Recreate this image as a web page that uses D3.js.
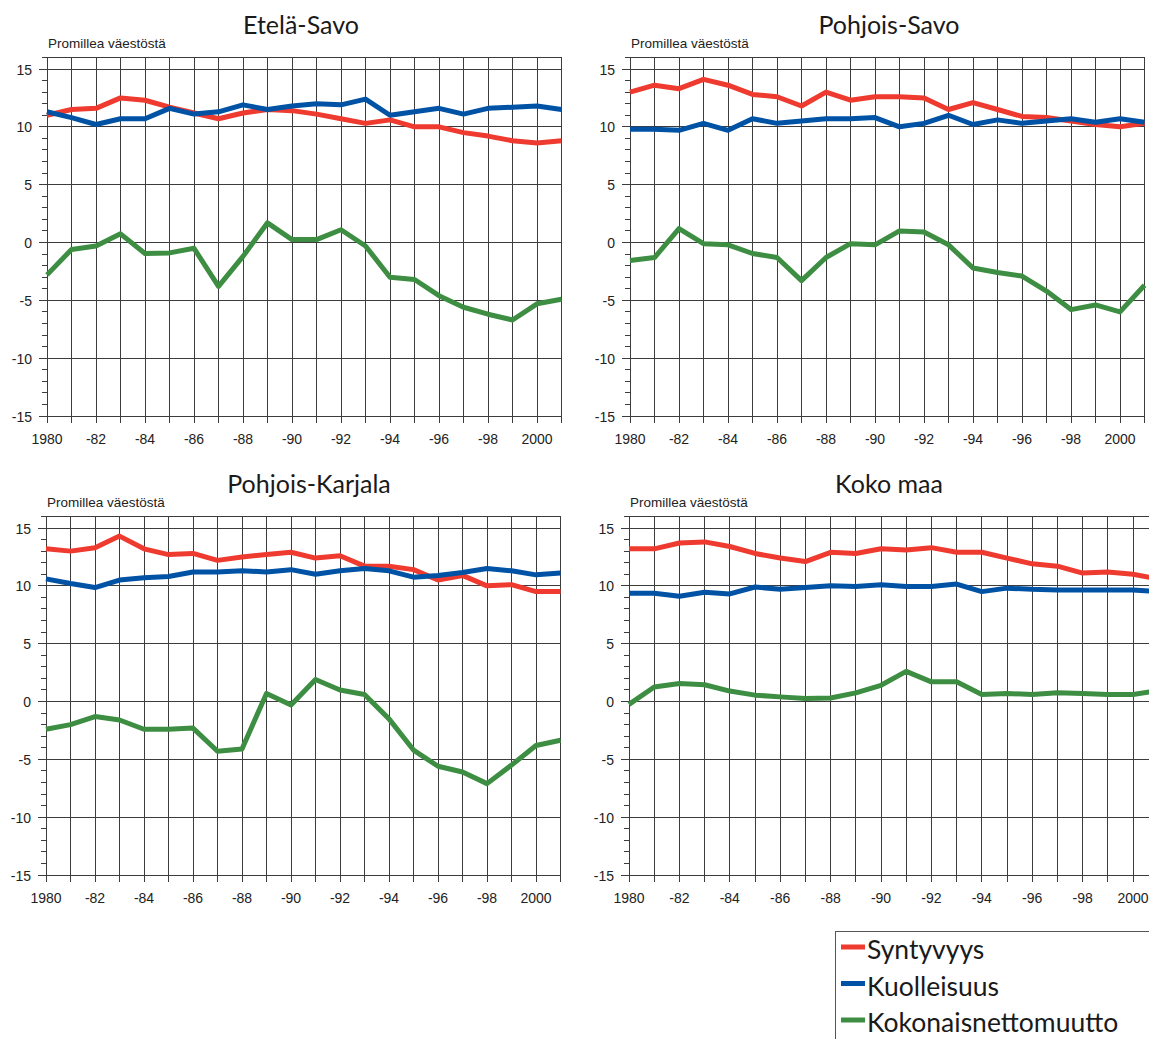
<!DOCTYPE html>
<meta charset="utf-8">
<style>
body { margin: 0; background: #fff; }
svg { display: block; }
.title { font-family: Lato, "Open Sans", sans-serif; font-size: 25px; fill: #1a1a1a; }
.unit { font-family: "Liberation Sans", Arial, sans-serif; font-size: 13.5px; fill: #222; }
.tick-label { font-family: "Liberation Sans", Arial, sans-serif; font-size: 14px; fill: #222; }
.grid line { stroke: #3c3c3c; stroke-width: 1px; shape-rendering: crispEdges; }
.series { fill: none; stroke-width: 5px; stroke-linejoin: round; }
.legend-text { font-family: Lato, "Open Sans", sans-serif; font-size: 26.5px; fill: #1a1a1a; }
</style>
<body>
<script src="https://d3js.org/d3.v7.min.js"></script>
<script>

// years on the x axis
var years = [1980, 1981, 1982, 1983, 1984, 1985, 1986, 1987, 1988, 1989, 1990,
             1991, 1992, 1993, 1994, 1995, 1996, 1997, 1998, 1999, 2000, 2001];
var xTickYears = [1980, 1982, 1984, 1986, 1988, 1990, 1992, 1994, 1996, 1998, 2000];
var xTickLabels = ["1980", "-82", "-84", "-86", "-88", "-90", "-92", "-94", "-96", "-98", "2000"];
var yTicks = [15, 10, 5, 0, -5, -10, -15];
var seriesNames = ["Syntyvyys", "Kuolleisuus", "Kokonaisnettomuutto"];
var seriesColors = ["#ee3a2f", "#0052a5", "#3d8e42"];
var unitLabel = "Promillea väestöstä";

// Etelä-Savo
var etelaSavoBirth = [11.0, 11.5, 11.6, 12.5, 12.3, 11.7, 11.2, 10.7, 11.2, 11.5, 11.4,
                      11.1, 10.7, 10.3, 10.6, 10.0, 10.0, 9.5, 9.2, 8.8, 8.6, 8.8];
var etelaSavoDeath = [11.3, 10.8, 10.2, 10.7, 10.7, 11.6, 11.1, 11.3, 11.9, 11.5, 11.8,
                      12.0, 11.9, 12.4, 11.0, 11.3, 11.6, 11.1, 11.6, 11.7, 11.8, 11.5];
var etelaSavoMigr = [-2.8, -0.6, -0.3, 0.75, -0.95, -0.9, -0.5, -3.8, -1.2, 1.7, 0.25,
                     0.25, 1.1, -0.3, -3.0, -3.2, -4.6, -5.6, -6.2, -6.7, -5.3, -4.9];

// Pohjois-Savo
var pohjoisSavoBirth = [13.0, 13.6, 13.3, 14.1, 13.6, 12.8, 12.6, 11.8, 13.0, 12.3, 12.6,
                        12.6, 12.5, 11.5, 12.1, 11.5, 10.9, 10.8, 10.5, 10.2, 10.0, 10.3];
var pohjoisSavoDeath = [9.8, 9.8, 9.7, 10.3, 9.7, 10.7, 10.3, 10.5, 10.7, 10.7, 10.8,
                        10.0, 10.3, 11.0, 10.2, 10.6, 10.3, 10.5, 10.7, 10.4, 10.7, 10.4];
var pohjoisSavoMigr = [-1.55, -1.3, 1.2, -0.1, -0.2, -0.95, -1.3, -3.3, -1.3, -0.1, -0.2,
                       1.0, 0.9, -0.2, -2.2, -2.6, -2.9, -4.2, -5.8, -5.4, -6.0, -3.7];

// Pohjois-Karjala
var pohjoisKarjalaBirth = [13.2, 13.0, 13.3, 14.3, 13.2, 12.7, 12.8, 12.2, 12.5, 12.7, 12.9,
                           12.4, 12.6, 11.7, 11.7, 11.4, 10.5, 10.9, 10.0, 10.1, 9.5, 9.5];
var pohjoisKarjalaDeath = [10.6, 10.2, 9.85, 10.5, 10.7, 10.8, 11.2, 11.2, 11.3, 11.2, 11.4,
                           11.0, 11.3, 11.5, 11.3, 10.75, 10.9, 11.15, 11.5, 11.3, 10.95, 11.1];
var pohjoisKarjalaMigr = [-2.4, -2.0, -1.3, -1.6, -2.4, -2.4, -2.3, -4.3, -4.1, 0.7, -0.3,
                          1.9, 1.0, 0.6, -1.5, -4.2, -5.6, -6.1, -7.1, -5.5, -3.8, -3.35];

// Koko maa
var kokoMaaBirth = [13.2, 13.2, 13.7, 13.8, 13.4, 12.8, 12.4, 12.1, 12.9, 12.8, 13.2,
                    13.1, 13.3, 12.9, 12.9, 12.4, 11.9, 11.7, 11.1, 11.2, 11.0, 10.6];
var kokoMaaDeath = [9.35, 9.35, 9.1, 9.45, 9.3, 9.9, 9.7, 9.85, 10.0, 9.95, 10.1,
                    9.95, 9.95, 10.15, 9.5, 9.8, 9.7, 9.65, 9.65, 9.65, 9.65, 9.5];
var kokoMaaMigr = [-0.25, 1.25, 1.55, 1.45, 0.9, 0.55, 0.4, 0.25, 0.3, 0.75, 1.4,
                   2.6, 1.7, 1.7, 0.6, 0.7, 0.6, 0.75, 0.7, 0.6, 0.6, 0.95];

var regions = ["Etelä-Savo", "Pohjois-Savo", "Pohjois-Karjala", "Koko maa"];
var regionData = [
    [etelaSavoBirth, etelaSavoDeath, etelaSavoMigr],
    [pohjoisSavoBirth, pohjoisSavoDeath, pohjoisSavoMigr],
    [pohjoisKarjalaBirth, pohjoisKarjalaDeath, pohjoisKarjalaMigr],
    [kokoMaaBirth, kokoMaaDeath, kokoMaaMigr]
];

// panel placement (pixels): left axis, year step, y of 15 and -15, title centre
var layout = [
    {left: 47,  step: 24.5, yTop: 69,  yBot: 416, titleX: 301, titleY: 34},
    {left: 630, step: 24.5, yTop: 69,  yBot: 416, titleX: 889, titleY: 34},
    {left: 46,  step: 24.5, yTop: 528, yBot: 875, titleX: 309, titleY: 493},
    {left: 629, step: 25.2, yTop: 528, yBot: 875, titleX: 889, titleY: 493}
];

var svg = d3.select("body").append("svg")
        .attr("width", 1149)
        .attr("height", 1039);

regions.forEach(function(name, i) {
    var L = layout[i];
    var x = d3.scaleLinear().domain([1980, 2001])
            .range([L.left, L.left + 21 * L.step]);
    var y = d3.scaleLinear().domain([-15, 15]).range([L.yBot, L.yTop]);
    var top = y(16);
    var g = svg.append("g");

    // minor ticks every unit
    var grid = g.append("g").attr("class", "grid");
    grid.selectAll(".minor")
            .data(d3.range(-15, 17))
            .enter().append("line")
            .attr("x1", L.left - 5).attr("x2", L.left)
            .attr("y1", function(d) { return y(d); })
            .attr("y2", function(d) { return y(d); });

    // horizontal grid
    grid.selectAll(".h")
            .data(yTicks)
            .enter().append("line")
            .attr("x1", L.left - 8).attr("x2", x(2001))
            .attr("y1", function(d) { return y(d); })
            .attr("y2", function(d) { return y(d); });

    // top frame
    grid.append("line")
            .attr("x1", L.left).attr("x2", x(2001))
            .attr("y1", top).attr("y2", top);

    // vertical grid, one per year
    grid.selectAll(".v")
            .data(years)
            .enter().append("line")
            .attr("x1", function(d) { return x(d); })
            .attr("x2", function(d) { return x(d); })
            .attr("y1", top)
            .attr("y2", L.yBot + 7);

    // y labels
    g.selectAll(".ylab")
            .data(yTicks)
            .enter().append("text")
            .attr("class", "tick-label")
            .attr("text-anchor", "end")
            .attr("x", L.left - 15)
            .attr("y", function(d) { return y(d) + 5.5; })
            .text(function(d) { return d; });

    // x labels
    g.selectAll(".xlab")
            .data(xTickYears)
            .enter().append("text")
            .attr("class", "tick-label")
            .attr("text-anchor", "middle")
            .attr("x", function(d) { return x(d); })
            .attr("y", L.yBot + 28)
            .text(function(d, j) { return xTickLabels[j]; });

    // series lines
    var line = d3.line()
            .x(function(d, j) { return x(years[j]); })
            .y(function(d) { return y(d); });

    regionData[i].forEach(function(values, k) {
        g.append("path")
                .attr("class", "series")
                .attr("stroke", seriesColors[k])
                .attr("d", line(values));
    });

    // titles
    g.append("text")
            .attr("class", "title")
            .attr("text-anchor", "middle")
            .attr("x", L.titleX)
            .attr("y", L.titleY)
            .text(name);

    g.append("text")
            .attr("class", "unit")
            .attr("x", L.left + 1)
            .attr("y", top - 9)
            .text(unitLabel);
});

// legend
var legend = svg.append("g");
legend.append("path")
        .attr("d", "M835,1039V931H1149")
        .attr("fill", "none")
        .attr("stroke", "#555")
        .attr("stroke-width", 1)
        .style("shape-rendering", "crispEdges");

seriesNames.forEach(function(s, k) {
    var cy = 947 + k * 36.5;
    legend.append("line")
            .attr("x1", 841).attr("x2", 865)
            .attr("y1", cy).attr("y2", cy)
            .attr("stroke", seriesColors[k])
            .attr("stroke-width", 5);
    legend.append("text")
            .attr("class", "legend-text")
            .attr("x", 867)
            .attr("y", cy + 12)
            .text(s);
});

</script>
</body>
